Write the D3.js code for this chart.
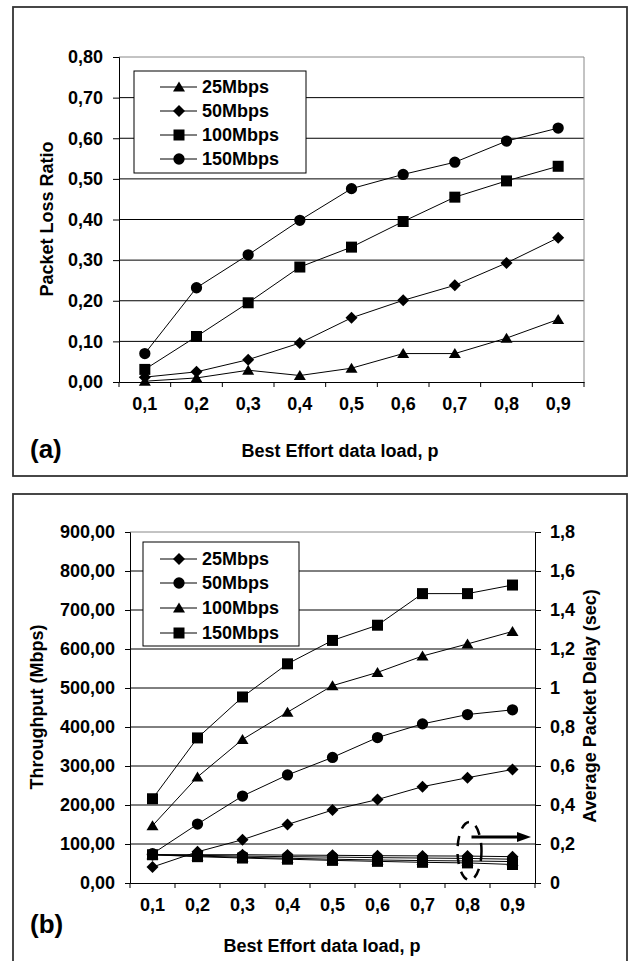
<!DOCTYPE html>
<html>
<head>
<meta charset="utf-8">
<script src="https://cdn.jsdelivr.net/npm/d3@7"></script>
<style>
  body { margin: 0; background: #fff; }
  svg text { font-family: "Liberation Sans", Arial, sans-serif; font-weight: bold; fill: #000; }
</style>
</head>
<body>
<svg id="chart" width="629" height="961"></svg>
<script>
// x categories (Best Effort data load)
const loads = ['0,1', '0,2', '0,3', '0,4', '0,5', '0,6', '0,7', '0,8', '0,9'];

// (a) packet loss ratio
const loss25 = [0.002, 0.010, 0.029, 0.016, 0.034, 0.070, 0.070, 0.108, 0.154];
const loss50 = [0.012, 0.025, 0.055, 0.096, 0.158, 0.201, 0.238, 0.293, 0.355];
const loss100 = [0.031, 0.112, 0.195, 0.283, 0.332, 0.395, 0.455, 0.495, 0.531];
const loss150 = [0.070, 0.232, 0.313, 0.398, 0.476, 0.511, 0.541, 0.593, 0.625];
const lossTicks = [0, 0.1, 0.2, 0.3, 0.4, 0.5, 0.6, 0.7, 0.8];

// (b) throughput (Mbps)
const thr25 = [41, 80, 111, 150, 187, 214, 247, 270, 291];
const thr50 = [75, 151, 223, 277, 322, 373, 408, 432, 444];
const thr100 = [147, 272, 368, 438, 506, 540, 582, 613, 645];
const thr150 = [216, 372, 477, 562, 622, 661, 742, 742, 764];
const thrTicks = [0, 100, 200, 300, 400, 500, 600, 700, 800, 900];

// (b) average packet delay (sec), right axis
const delay25 = [0.145, 0.145, 0.145, 0.143, 0.142, 0.140, 0.139, 0.138, 0.135];
const delay50 = [0.145, 0.142, 0.138, 0.135, 0.133, 0.130, 0.128, 0.126, 0.122];
const delay100 = [0.145, 0.138, 0.132, 0.127, 0.122, 0.118, 0.115, 0.113, 0.110];
const delay150 = [0.145, 0.135, 0.128, 0.122, 0.116, 0.111, 0.106, 0.103, 0.095];
const delayTicks = [0, 0.2, 0.4, 0.6, 0.8, 1, 1.2, 1.4, 1.6, 1.8];

const svg = d3.select('#chart');

// marker shapes
const marker = {
    triangle: 'M0,-5.5L6,4.5L-6,4.5Z',
    diamond: 'M0,-6L6,0L0,6L-6,0Z',
    square: 'M-5.5,-5.5H5.5V5.5H-5.5Z',
    circle: d3.symbol(d3.symbolCircle, 100)()
};

function drawSeries(g, x, y, values, shape) {
    const pts = values.map((v, i) => [x(loads[i]) + x.bandwidth() / 2, y(v)]);
    g.append('path')
        .attr('d', d3.line()(pts))
        .attr('fill', 'none')
        .attr('stroke', '#000')
        .attr('stroke-width', 1);
    g.selectAll(null)
        .data(pts)
        .enter()
        .append('path')
        .attr('d', marker[shape])
        .attr('transform', d => `translate(${d[0]},${d[1]})`)
        .attr('fill', '#000');
}

function drawXAxis(g, x, yBottom) {
    g.append('g')
        .attr('transform', `translate(0,${yBottom})`)
        .call(d3.axisBottom(x).tickSize(0).tickPadding(22))
        .call(a => a.select('.domain').attr('stroke', '#000'))
        .call(a => a.selectAll('text').attr('font-size', 18).attr('dy', '0.35em'));
    // tick marks between categories
    const edges = loads.map(c => x(c)).concat([x(loads[loads.length - 1]) + x.bandwidth()]);
    g.selectAll(null)
        .data(edges)
        .enter()
        .append('line')
        .attr('x1', d => d).attr('x2', d => d)
        .attr('y1', yBottom).attr('y2', yBottom + 5)
        .attr('stroke', '#000');
}

function drawLegend(g, x0, y0, w, h, rows) {
    g.append('rect')
        .attr('x', x0).attr('y', y0).attr('width', w).attr('height', h)
        .attr('fill', '#fff').attr('stroke', '#000').attr('stroke-width', 1);
    rows.forEach(r => {
        g.append('line')
            .attr('x1', 160).attr('x2', 197).attr('y1', r.y).attr('y2', r.y)
            .attr('stroke', '#000');
        g.append('path')
            .attr('d', marker[r.shape])
            .attr('transform', `translate(179,${r.y})`);
        g.append('text')
            .attr('x', 202).attr('y', r.y).attr('dy', '0.36em')
            .attr('font-size', 18)
            .text(r.name);
    });
}

// ---------- (a) ----------
const ga = svg.append('g');
ga.append('rect')
    .attr('x', 13).attr('y', 7).attr('width', 614).attr('height', 469)
    .attr('fill', 'none').attr('stroke', '#333').attr('stroke-width', 1.8);

const xa = d3.scaleBand().domain(loads).range([119, 584]);
const ya = d3.scaleLinear().domain([0, 0.8]).range([382, 57]);

// grid
ga.selectAll(null)
    .data(lossTicks.slice(1, -1))
    .enter()
    .append('line')
    .attr('x1', 119).attr('x2', 584)
    .attr('y1', d => ya(d)).attr('y2', d => ya(d))
    .attr('stroke', '#000');
ga.append('path')
    .attr('d', `M119,${ya(0.8)}H584V${ya(0)}`)
    .attr('fill', 'none').attr('stroke', '#888');

ga.append('g')
    .attr('transform', 'translate(119,0)')
    .call(d3.axisLeft(ya).tickValues(lossTicks).tickSize(6).tickPadding(10)
        .tickFormat(d => d.toFixed(2).replace('.', ',')))
    .call(a => a.selectAll('text').attr('font-size', 18))
    .call(a => a.selectAll('line, .domain').attr('stroke', '#000'));
drawXAxis(ga, xa, 382);

drawSeries(ga, xa, ya, loss25, 'triangle');
drawSeries(ga, xa, ya, loss50, 'diamond');
drawSeries(ga, xa, ya, loss100, 'square');
drawSeries(ga, xa, ya, loss150, 'circle');

drawLegend(ga, 134, 71, 172, 102, [
    { name: '25Mbps', shape: 'triangle', y: 87 },
    { name: '50Mbps', shape: 'diamond', y: 111 },
    { name: '100Mbps', shape: 'square', y: 135 },
    { name: '150Mbps', shape: 'circle', y: 159 }
]);

ga.append('text')
    .attr('transform', 'translate(47,219) rotate(-90)')
    .attr('dy', '0.35em').attr('text-anchor', 'middle').attr('font-size', 18)
    .text('Packet Loss Ratio');
ga.append('text')
    .attr('x', 340).attr('y', 457).attr('text-anchor', 'middle').attr('font-size', 18)
    .text('Best Effort data load, p');
ga.append('text')
    .attr('x', 30).attr('y', 458).attr('font-size', 26)
    .text('(a)');

// ---------- (b) ----------
const gb = svg.append('g');
gb.append('rect')
    .attr('x', 13).attr('y', 494).attr('width', 614).attr('height', 480)
    .attr('fill', 'none').attr('stroke', '#333').attr('stroke-width', 1.8);

const xb = d3.scaleBand().domain(loads).range([130, 535]);
const yb = d3.scaleLinear().domain([0, 900]).range([883, 532]);
const yd = d3.scaleLinear().domain([0, 1.8]).range([883, 532]);

gb.selectAll(null)
    .data(thrTicks.slice(1, -1))
    .enter()
    .append('line')
    .attr('x1', 130).attr('x2', 535)
    .attr('y1', d => yb(d)).attr('y2', d => yb(d))
    .attr('stroke', '#000');
gb.append('line')
    .attr('x1', 130).attr('x2', 535).attr('y1', yb(900)).attr('y2', yb(900))
    .attr('stroke', '#888');

gb.append('g')
    .attr('transform', 'translate(130,0)')
    .call(d3.axisLeft(yb).tickValues(thrTicks).tickSize(5).tickPadding(10)
        .tickFormat(d => d.toFixed(2).replace('.', ',')))
    .call(a => a.selectAll('text').attr('font-size', 18))
    .call(a => a.selectAll('line, .domain').attr('stroke', '#000'));
gb.append('g')
    .attr('transform', 'translate(535,0)')
    .call(d3.axisRight(yd).tickValues(delayTicks).tickSize(6).tickPadding(9)
        .tickFormat(d => Number.isInteger(d) ? String(d) : d.toFixed(1).replace('.', ',')))
    .call(a => a.selectAll('text').attr('font-size', 18))
    .call(a => a.selectAll('line, .domain').attr('stroke', '#000'));
drawXAxis(gb, xb, 883);

drawSeries(gb, xb, yd, delay25, 'diamond');
drawSeries(gb, xb, yd, delay50, 'circle');
drawSeries(gb, xb, yd, delay100, 'triangle');
drawSeries(gb, xb, yd, delay150, 'square');

drawSeries(gb, xb, yb, thr25, 'diamond');
drawSeries(gb, xb, yb, thr50, 'circle');
drawSeries(gb, xb, yb, thr100, 'triangle');
drawSeries(gb, xb, yb, thr150, 'square');

drawLegend(gb, 143, 542, 156, 104, [
    { name: '25Mbps', shape: 'diamond', y: 559 },
    { name: '50Mbps', shape: 'circle', y: 583 },
    { name: '100Mbps', shape: 'triangle', y: 608 },
    { name: '150Mbps', shape: 'square', y: 633 }
]);

// dashed ellipse + arrow pointing at the delay axis
const cx08 = xb('0,8') + xb.bandwidth() / 2;
gb.append('ellipse')
    .attr('cx', cx08 + 2).attr('cy', 851).attr('rx', 12).attr('ry', 29)
    .attr('fill', 'none').attr('stroke', '#000').attr('stroke-width', 2.5)
    .attr('stroke-dasharray', '10,8');
gb.append('line')
    .attr('x1', cx08 + 4).attr('x2', 519).attr('y1', 837).attr('y2', 837)
    .attr('stroke', '#000').attr('stroke-width', 3);
gb.append('path')
    .attr('d', 'M517,832L531,837L517,842Z')
    .attr('fill', '#000');

gb.append('text')
    .attr('transform', 'translate(37,707) rotate(-90)')
    .attr('dy', '0.35em').attr('text-anchor', 'middle').attr('font-size', 18)
    .text('Throughput (Mbps)');
gb.append('text')
    .attr('transform', 'translate(590,706) rotate(-90)')
    .attr('dy', '0.35em').attr('text-anchor', 'middle').attr('font-size', 18)
    .text('Average Packet Delay (sec)');
gb.append('text')
    .attr('x', 322).attr('y', 952).attr('text-anchor', 'middle').attr('font-size', 18)
    .text('Best Effort data load, p');
gb.append('text')
    .attr('x', 30).attr('y', 933).attr('font-size', 26)
    .text('(b)');
</script>
</body>
</html>
